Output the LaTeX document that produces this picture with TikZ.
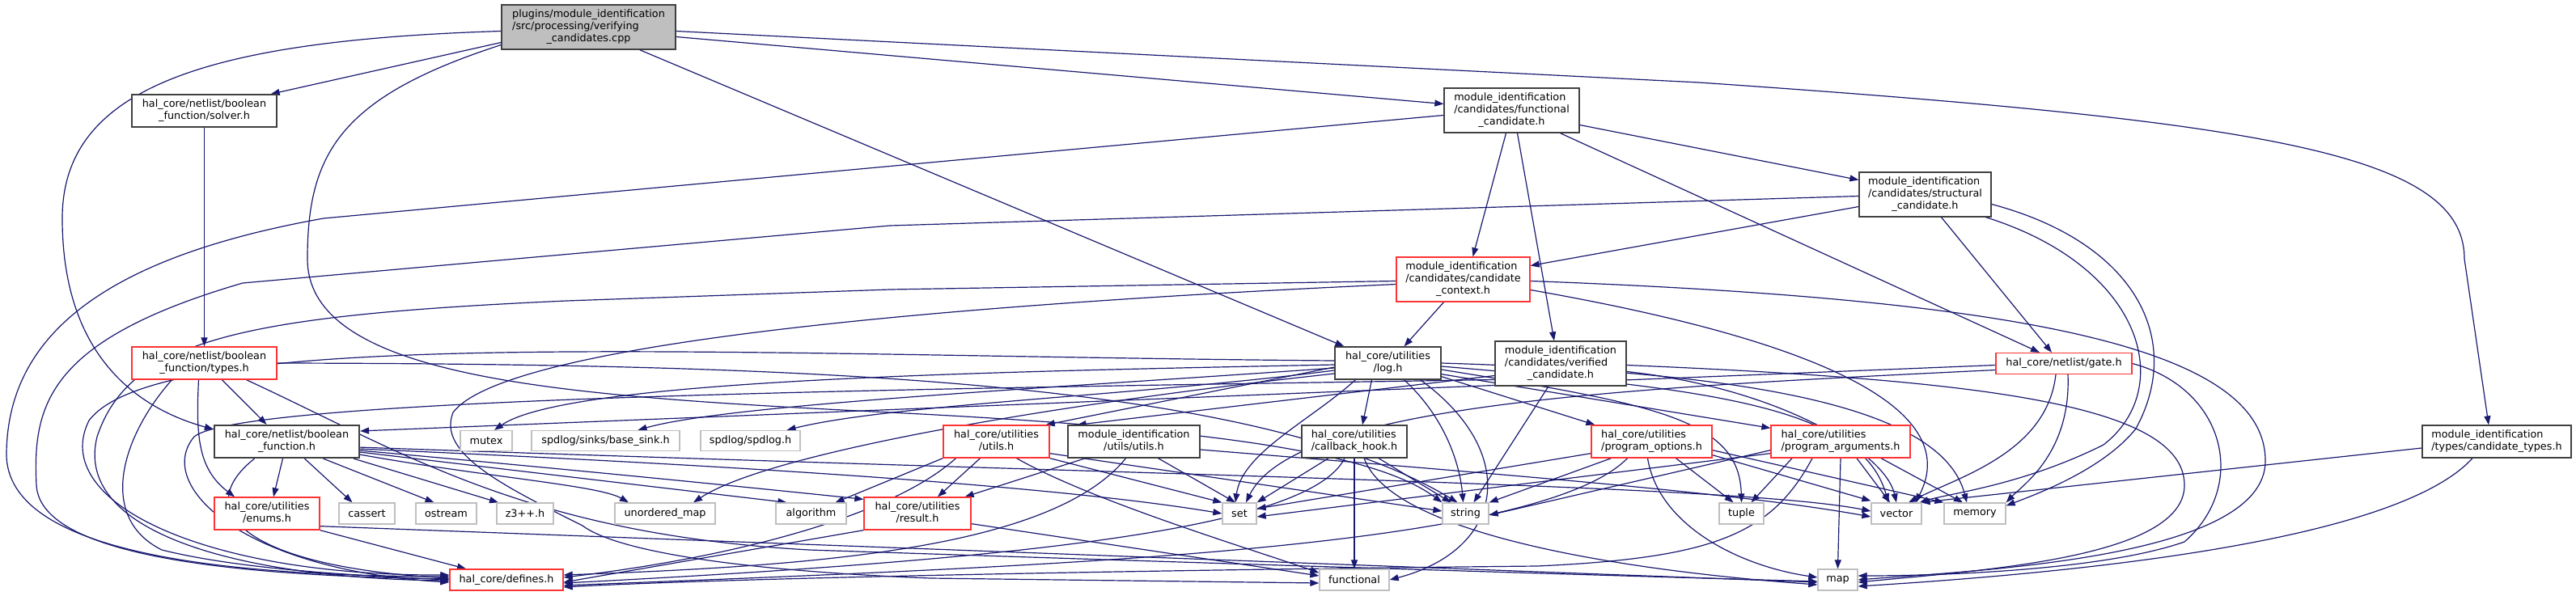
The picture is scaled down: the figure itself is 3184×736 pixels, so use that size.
\documentclass[tikz,border=0pt]{standalone}
\usepackage{fontspec}
\setmainfont{DejaVu Sans}
\usetikzlibrary{arrows.meta}
\definecolor{edgec}{HTML}{191970}
\definecolor{redb}{HTML}{FF3333}
\definecolor{sysb}{HTML}{BFBFBF}
\definecolor{darkb}{HTML}{404040}
\definecolor{mainf}{HTML}{BFBFBF}
\newcommand\twol[2]{\begin{tabular}{@{}l@{}}#1\\\multicolumn{1}{@{}c@{}}{#2}\end{tabular}}
\newcommand\threel[3]{\begin{tabular}{@{}l@{}}#1\\#2\\\multicolumn{1}{@{}c@{}}{#3}\end{tabular}}
\pgfdeclarelayer{back}
\pgfdeclarelayer{bg}
\pgfsetlayers{back,bg,main}
\begin{document}
\begin{tikzpicture}[x=1pt,y=-1pt,font=\fontsize{12.8}{15}\selectfont,
  bx/.style={draw=black,line width=1.3pt,fill=white,inner sep=0pt,anchor=center},
  hb/.style={bx,draw=darkb},
  rb/.style={bx,draw=redb},
  sb/.style={bx,draw=sysb},
  e/.style={draw=edgec,line width=1.2pt,-{Triangle[length=11pt,width=8pt]}}]
\begin{pgfonlayer}{back}
\fill[white] (0,0) rectangle (3184,736);
\end{pgfonlayer}
\useasboundingbox (0,0) rectangle (3184,736);
% nodes
\node[hb,fill=mainf,minimum width=215pt,minimum height=55pt] (main) at (727.5,33.5) {\threel{plugins/module\_identification}{/src/processing/verifying}{\_candidates.cpp}};
\node[hb,minimum width=179pt,minimum height=40pt] (solver) at (252.5,137) {\twol{hal\_core/netlist/boolean}{\_function/solver.h}};
\node[rb,minimum width=179pt,minimum height=40pt] (types) at (252.5,449) {\twol{hal\_core/netlist/boolean}{\_function/types.h}};
\node[hb,line width=2.2pt,minimum width=179pt,minimum height=40pt] (bf) at (354.5,546) {\twol{hal\_core/netlist/boolean}{\_function.h}};
\node[sb,minimum width=64pt,minimum height=25pt] (mutex) at (601,545) {mutex};
\node[sb,minimum width=183pt,minimum height=25pt] (basesink) at (748.5,545) {spdlog/sinks/base\_sink.h};
\node[sb,minimum width=123pt,minimum height=25pt] (spdlog) at (927.5,545) {spdlog/spdlog.h};
\node[rb,minimum width=130pt,minimum height=40pt] (enums) at (330,635) {\twol{hal\_core/utilities}{/enums.h}};
\node[sb,minimum width=69pt,minimum height=26pt] (cassert) at (453.5,635) {cassert};
\node[sb,minimum width=75pt,minimum height=26pt] (ostream) at (551.5,635) {ostream};
\node[sb,minimum width=70pt,minimum height=26pt] (zthree) at (649,635) {z3++.h};
\node[sb,minimum width=124pt,minimum height=26pt] (umap) at (822,635) {unordered\_map};
\node[sb,minimum width=87pt,minimum height=26pt] (algorithm) at (1002.5,635) {algorithm};
\node[rb,minimum width=132pt,minimum height=40pt] (result) at (1134,635) {\twol{hal\_core/utilities}{/result.h}};
\node[rb,minimum width=140pt,minimum height=26pt] (defines) at (626,717) {hal\_core/defines.h};
\node[hb,minimum width=131pt,minimum height=40pt] (log) at (1715.5,449) {\twol{hal\_core/utilities}{/log.h}};
\node[hb,minimum width=162pt,minimum height=55pt] (verified) at (1929,449.5) {\threel{module\_identification}{/candidates/verified}{\_candidate.h}};
\node[rb,minimum width=168pt,minimum height=26pt] (gate) at (2551,449.5) {hal\_core/netlist/gate.h};
\node[rb,minimum width=131pt,minimum height=40pt] (utils) at (1231.5,546) {\twol{hal\_core/utilities}{/utils.h}};
\node[hb,minimum width=163pt,minimum height=40pt] (modutils) at (1401.5,546) {\twol{module\_identification}{/utils/utils.h}};
\node[hb,minimum width=130pt,minimum height=40pt] (callback) at (1674,546) {\twol{hal\_core/utilities}{/callback\_hook.h}};
\node[rb,minimum width=149pt,minimum height=40pt] (progopt) at (2041.5,546) {\twol{hal\_core/utilities}{/program\_options.h}};
\node[rb,minimum width=172pt,minimum height=40pt] (progarg) at (2275,546) {\twol{hal\_core/utilities}{/program\_arguments.h}};
\node[hb,minimum width=184pt,minimum height=40pt] (candtypes) at (3086,546) {\twol{module\_identification}{/types/candidate\_types.h}};
\node[sb,minimum width=42pt,minimum height=26pt] (set) at (1532,635) {set};
\node[sb,minimum width=57pt,minimum height=26pt] (string) at (1811.5,635) {string};
\node[sb,minimum width=55pt,minimum height=26pt] (tuple) at (2152.5,635) {tuple};
\node[sb,minimum width=62pt,minimum height=26pt] (vector) at (2344,635) {vector};
\node[sb,minimum width=76pt,minimum height=26pt] (memory) at (2441,635) {memory};
\node[sb,minimum width=49pt,minimum height=26pt] (map) at (2271.5,717) {map};
\node[sb,minimum width=86pt,minimum height=26pt] (functional) at (1674,717) {functional};
\node[rb,minimum width=165pt,minimum height=55pt] (context) at (1808.5,345.5) {\threel{module\_identification}{/candidates/candidate}{\_context.h}};
\node[hb,minimum width=167pt,minimum height=55pt] (funcand) at (1868.5,136.5) {\threel{module\_identification}{/candidates/functional}{\_candidate.h}};
\node[hb,minimum width=163pt,minimum height=55pt] (struct) at (2379.5,240.5) {\threel{module\_identification}{/candidates/structural}{\_candidate.h}};
% edges
\begin{pgfonlayer}{bg}
% main
\draw[e] ([yshift=-19pt]main.west) -- ([xshift=-8pt]solver.north east);
\draw[e] ([yshift=-5pt]main.west) .. controls (250,50) and (77,110) .. (77,270) .. controls (77,440) and (170,505) .. ([yshift=-6pt]bf.north west);
\draw[e] ([yshift=-22pt]main.west) .. controls (420,120) and (380,190) .. (380,320) .. controls (380,470) and (700,490) .. (1100,510) .. controls (1500,530) and (1700,560) .. (string.north west);
\draw[e] ([yshift=-12pt]main.east) -- ([yshift=8pt]funcand.west);
\draw[e] ([yshift=-5pt]main.east) -- (2100,102) .. controls (2800,150) and (3046,190) .. (3046,320) -- ([xshift=-10pt]candtypes.north);
\draw[e] ([xshift=-45pt]main.south east) -- ([xshift=12pt]log.north west);
% solver, types
\draw[e] (solver) -- (types);
\draw[e] ([xshift=22pt]types.south) -- ([xshift=-25pt]bf.north);
\draw[e] ([xshift=-7pt]types.south) .. controls (242,540) and (245,580) .. ([xshift=-40pt]enums.north);
\draw[e] ([xshift=-40pt]types.south) .. controls (150,540) and (120,640) .. (200,680) .. controls (300,705) and (450,712) .. (defines.west);
\draw[e] (types.east) .. controls (1000,450) and (1550,470) .. ([xshift=-10pt]string.north);
\draw[e] ([xshift=52pt]types.south) .. controls (500,560) and (650,660) .. (1000,680) .. controls (1600,700) and (2000,712) .. ([yshift=-2pt]map.west);
% bf
\draw[e] ([xshift=-5pt]bf.south) -- ([xshift=8pt]enums.north);
\draw[e] ([xshift=-40pt]bf.south) .. controls (235,630) and (300,700) .. ([yshift=2pt]defines.west);
\draw[e] ([xshift=22pt]bf.south) -- ([xshift=-18pt]cassert.north);
\draw[e] ([xshift=45pt]bf.south) -- ([xshift=-15pt]ostream.north);
\draw[e] ([xshift=-8pt]bf.south east) -- ([xshift=-33pt]zthree.north);
\draw[e] ([yshift=5pt]bf.south east) .. controls (600,590) and (740,600) .. ([xshift=-45pt]umap.north);
\draw[e] ([yshift=8pt]bf.south east) -- ([xshift=-30pt]algorithm.north);
\draw[e] ([yshift=10pt]bf.south east) .. controls (700,580) and (900,600) .. ([yshift=-3pt]result.north west);
\draw[e] ([yshift=12pt]bf.south east) .. controls (900,575) and (1300,600) .. (set.west);
\draw[e] ([yshift=14pt]bf.south east) .. controls (1500,590) and (2150,600) .. ([yshift=3pt]vector.west);
% enums, result
\draw[e] (enums.south east) -- ([xshift=-50pt]defines.north);
\draw[e] ([yshift=5pt]enums.south east) -- ([yshift=-3pt]map.west);
\draw[e] (result.south west) -- ([yshift=-3pt]defines.east);
\draw[e] ([yshift=8pt]result.south east) -- ([yshift=5pt]functional.west);
% utils
\draw[e] ([xshift=-20pt]utils.south) -- ([xshift=25pt]result.north);
\draw[e] ([xshift=-50pt]utils.south) .. controls (1100,640) and (900,690) .. ([yshift=3pt]defines.east);
\draw[e] (utils.south west) -- ([xshift=30pt]algorithm.north);
\draw[e] (utils.south east) -- (set.north west);
\draw[e] ([yshift=6pt]utils.south east) -- ([yshift=3pt]string.west);
\draw[e] ([xshift=25pt]utils.south) .. controls (1350,620) and (1550,680) .. ([yshift=-5pt]functional.north west);
% modutils
\draw[e] ([xshift=-60pt]modutils.south) -- ([xshift=-8pt]result.north east);
\draw[e] ([xshift=-10pt]modutils.south) .. controls (1300,680) and (1000,700) .. ([yshift=6pt]defines.east);
\draw[e] ([xshift=30pt]modutils.south) -- ([xshift=-5pt]set.north);
\draw[e] ([yshift=-10pt]modutils.east) .. controls (1900,590) and (2150,610) .. ([yshift=-4pt]vector.west);
% log
\draw[e] ([yshift=-5pt]log.west) -- ([xshift=-5pt]utils.north east);
\draw[e] ([xshift=-20pt]log.south) -- ([xshift=10pt]callback.north);
\draw[e] ([yshift=4pt]log.south east) -- ([xshift=5pt]progopt.north west);
\draw[e] ([yshift=7pt]log.south east) -- ([yshift=-4pt]progarg.north west);
\draw[e] ([yshift=3pt]log.west) .. controls (900,440) and (200,400) .. (110,520) .. controls (60,620) and (250,712) .. ([yshift=6pt]defines.west);
\draw[e] ([yshift=-2pt]log.west) .. controls (1200,460) and (700,470) .. ([xshift=10pt]mutex.north);
\draw[e] ([yshift=-6pt]log.west) .. controls (1300,480) and (900,500) .. ([xshift=40pt]basesink.north);
\draw[e] ([yshift=-9pt]log.west) .. controls (1400,490) and (1100,500) .. ([xshift=45pt]spdlog.north);
\draw[e] ([yshift=-13pt]log.west) .. controls (1300,500) and (950,560) .. ([xshift=35pt]umap.north);
\draw[e] ([xshift=-40pt]log.south) .. controls (1620,520) and (1535,560) .. ([xshift=-5pt]set.north);
\draw[e] ([xshift=20pt]log.south) .. controls (1790,520) and (1805,580) .. ([xshift=-3pt]string.north);
\draw[e] ([xshift=40pt]log.south) .. controls (1880,560) and (1860,680) .. (functional.east);
\draw[e] ([yshift=-8pt]log.east) .. controls (2050,500) and (2150,520) .. (tuple.north);
\draw[e] ([yshift=-4pt]log.east) .. controls (2100,480) and (2300,500) .. ([xshift=-10pt]vector.north);
\draw[e] (log.east) .. controls (2150,460) and (2400,500) .. ([xshift=-10pt]memory.north);
% callback
\draw[e] ([xshift=-32pt]callback.south) -- (set.north east);
\draw[e] ([xshift=-12pt]callback.south) .. controls (1620,650) and (1300,690) .. ([yshift=-4pt]defines.east);
\draw[e] (callback) -- (functional);
\draw[e] ([xshift=12pt]callback.south) .. controls (1720,660) and (2000,705) .. ([yshift=-6pt]map.west);
\draw[e] ([xshift=30pt]callback.south) -- ([xshift=-18pt]string.north);
% progopt
\draw[e] ([yshift=6pt]progopt.south west) -- ([yshift=6pt]set.east);
\draw[e] ([xshift=-50pt]progopt.south) -- (string.north east);
\draw[e] ([xshift=-30pt]progopt.south) .. controls (1900,680) and (1300,700) .. ([yshift=-7pt]defines.east);
\draw[e] ([xshift=-5pt]progopt.south) .. controls (2050,650) and (2150,700) .. ([yshift=3pt]map.west);
\draw[e] ([xshift=30pt]progopt.south) -- ([xshift=-10pt]tuple.north);
\draw[e] ([yshift=4pt]progopt.south east) -- ([yshift=2pt]vector.north west);
\draw[e] ([yshift=10pt]progopt.south east) -- (memory.north west);
% progarg
\draw[e] ([yshift=6pt]progarg.south west) -- ([yshift=-4pt]set.east);
\draw[e] ([yshift=10pt]progarg.south west) -- ([yshift=-2pt]string.east);
\draw[e] ([xshift=-60pt]progarg.south) -- ([xshift=12pt]tuple.north);
\draw[e] ([xshift=-35pt]progarg.south) .. controls (2190,660) and (2120,690) .. (1900,700) .. controls (1400,705) and (900,715) .. ([yshift=-9pt]defines.east);
\draw[e] (progarg.south) -- (map.north);
\draw[e] ([xshift=20pt]progarg.south) -- ([xshift=-8pt]vector.north);
\draw[e] ([xshift=50pt]progarg.south) -- ([xshift=-15pt]memory.north);
% gate
\draw[e] ([yshift=-2pt]gate.west) -- ([yshift=13pt]bf.east);
\draw[e] ([yshift=-8pt]gate.west) .. controls (2000,480) and (1600,500) .. ([xshift=8pt]set.north);
\draw[e] ([xshift=-10pt]gate.south) .. controls (2530,560) and (2420,590) .. ([xshift=15pt]vector.north);
\draw[e] ([xshift=5pt]gate.south) .. controls (2560,560) and (2500,600) .. (memory.north east);
\draw[e] (gate.east) .. controls (2750,480) and (2780,600) .. (2700,670) .. controls (2600,705) and (2400,712) .. ([yshift=5pt]map.east);
% funcand
\draw[e] ([xshift=-7pt]funcand.south) -- ([xshift=12pt]context.north);
\draw[e] ([xshift=7pt]funcand.south) -- ([xshift=-8pt]verified.north);
\draw[e] ([yshift=-18pt]funcand.east) -- ([yshift=18pt]struct.west);
\draw[e] ([xshift=60pt]funcand.south) -- ([xshift=-30pt]gate.north);
\draw[e] ([yshift=-6pt]funcand.west) -- (400,270) .. controls (120,320) and (10,420) .. (8,560) .. controls (6,690) and (300,712) .. ([yshift=4pt]defines.west);
% struct
\draw[e] ([yshift=-15pt]struct.west) -- ([yshift=17pt]context.east);
\draw[e] ([xshift=20pt]struct.south) -- ([xshift=-15pt]gate.north);
\draw[e] ([xshift=75pt]struct.south) .. controls (2650,330) and (2690,480) .. (2600,550) .. controls (2500,600) and (2410,610) .. ([xshift=-3pt]vector.north east);
\draw[e] ([yshift=-12pt]struct.east) .. controls (2640,300) and (2700,420) .. (2640,530) .. controls (2600,580) and (2520,610) .. ([yshift=-4pt]memory.north east);
\draw[e] ([yshift=-2pt]struct.west) -- (1100,279) -- (300,350) .. controls (60,420) and (40,500) .. (45,600) .. controls (50,690) and (300,712) .. ([yshift=1pt]defines.west);
% context
\draw[e] ([xshift=-24pt]context.south) -- ([xshift=20pt]log.north);
\draw[e] ([yshift=-2pt]context.west) -- (1100,358) -- (700,372) .. controls (300,390) and (160,420) .. (120,540) .. controls (90,660) and (300,715) .. ([yshift=-1pt]defines.west);
\draw[e] ([yshift=-6pt]context.west) .. controls (1100,380) and (620,430) .. (560,510) .. controls (540,560) and (620,600) .. (720,650) .. controls (760,680) and (900,705) .. (1150,715) -- ([yshift=-4pt]functional.west);
\draw[e] ([yshift=-2pt]context.east) .. controls (2500,370) and (2800,430) .. (2800,570) .. controls (2800,690) and (2450,705) .. (map.east);
\draw[e] ([yshift=-13pt]context.east) .. controls (2300,430) and (2420,520) .. ([xshift=-8pt]vector.north east);
% verified
\draw[e] ([xshift=-15pt]verified.south) -- ([xshift=10pt]string.north);
\draw[e] ([yshift=-15pt]verified.west) -- ([xshift=-70pt]modutils.north);
\draw[e] ([yshift=-20pt]verified.west) .. controls (1200,480) and (300,490) .. (240,540) .. controls (190,600) and (300,705) .. ([yshift=-3pt]defines.west);
\draw[e] ([yshift=-2pt]verified.east) .. controls (2450,470) and (2700,500) .. (2700,600) .. controls (2700,690) and (2450,705) .. ([yshift=-3pt]map.east);
\draw[e] ([yshift=-10pt]verified.east) .. controls (2200,480) and (2330,560) .. (vector.north);
% candtypes
\draw[e] ([yshift=-8pt]candtypes.west) -- ([xshift=-1pt]vector.north east);
\draw[e] ([xshift=-30pt]candtypes.south) .. controls (2980,650) and (2700,700) .. ([yshift=-8pt]map.east);
\end{pgfonlayer}
\end{tikzpicture}
\end{document}
